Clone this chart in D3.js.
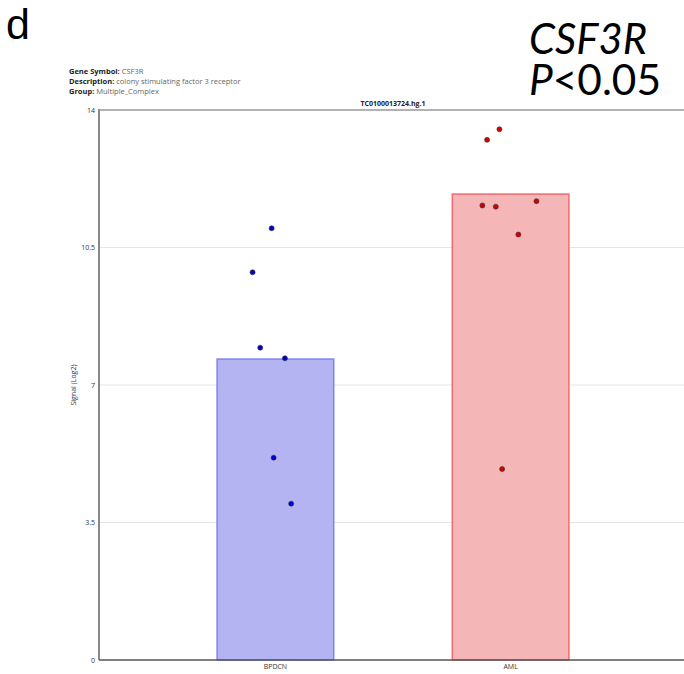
<!DOCTYPE html>
<html><head><meta charset="utf-8">
<script src="https://cdn.jsdelivr.net/npm/d3@7/dist/d3.min.js"></script>
<style>body{margin:0;background:#fff}svg{display:block}</style>
</head><body>
<script>
const categories = ["BPDCN", "AML"];
const barValues = [7.66, 11.86];
const barFill = ["#b4b4f3", "#f4b6b7"];
const barStroke = ["#8080f5", "#f26a6e"];
const dotFill = ["#0000c8", "#d40000"];
const bpdcnPoints = [10.99, 9.87, 7.95, 7.68, 5.15, 3.98];
const bpdcnJitter = [-0.032, -0.194, -0.129, 0.081, -0.015, 0.134];
const amlPoints = [13.51, 13.24, 11.57, 11.54, 11.68, 10.83, 4.86];
const amlJitter = [-0.095, -0.2, -0.24, -0.126, 0.22, 0.066, -0.072];
const yTicks = [0, 3.5, 7, 10.5, 14];

const W = 684, H = 674;
const svg = d3.select("body").append("svg").attr("width", W).attr("height", H);
const mLeft = 99, mRight = 687, mTop = 110, mBottom = 660;

const x = d3.scaleBand().domain(categories).range([mLeft, mRight]).paddingInner(0.5).paddingOuter(0.5);
const y = d3.scaleLinear().domain([0, 14]).range([mBottom, mTop]);

// gridlines
svg.append("g").selectAll("line").data(yTicks.filter(t => t > 0 && t < 14)).join("line")
  .attr("x1", mLeft).attr("x2", W).attr("y1", d => y(d)).attr("y2", d => y(d))
  .attr("stroke", "#e4e4e4").attr("stroke-width", 1);

// bars
svg.append("g").selectAll("rect").data(categories).join("rect")
  .attr("x", d => x(d) + 0.5).attr("width", x.bandwidth() - 1)
  .attr("y", (d, i) => y(barValues[i])).attr("height", (d, i) => mBottom - y(barValues[i]))
  .attr("fill", (d, i) => barFill[i]).attr("stroke", (d, i) => barStroke[i]).attr("stroke-width", 1.5);

// axes
const yAxis = svg.append("g").attr("transform", `translate(${mLeft},0)`)
  .call(d3.axisLeft(y).tickValues(yTicks).tickSize(0).tickPadding(4).tickFormat(d3.format("")));
yAxis.select(".domain").remove();
yAxis.selectAll("text").attr("font-family", "Open Sans, sans-serif").attr("font-size", 7).attr("fill", "#333");

svg.append("line").attr("x1", mLeft).attr("x2", mLeft).attr("y1", mTop - 1).attr("y2", mBottom)
  .attr("stroke", "#888").attr("stroke-width", 2);
svg.append("line").attr("x1", mLeft).attr("x2", W).attr("y1", mTop).attr("y2", mTop)
  .attr("stroke", "#999").attr("stroke-width", 1.5);

const xAxis = svg.append("g").attr("transform", `translate(0,${mBottom})`)
  .call(d3.axisBottom(x).tickSize(0).tickPadding(4));
xAxis.select(".domain").attr("d", `M${mLeft},0H${W}`).attr("stroke", "#555").attr("stroke-width", 1.5);
xAxis.selectAll("text").attr("font-family", "Open Sans, sans-serif").attr("font-size", 7).attr("fill", "#333");

// dots
const pts = [];
bpdcnPoints.forEach((v, i) => pts.push({c: 0, v, j: bpdcnJitter[i]}));
amlPoints.forEach((v, i) => pts.push({c: 1, v, j: amlJitter[i]}));
svg.append("g").selectAll("circle").data(pts).join("circle")
  .attr("cx", d => x(categories[d.c]) + x.bandwidth() / 2 + d.j * x.bandwidth())
  .attr("cy", d => y(d.v)).attr("r", 2.5)
  .attr("fill", d => dotFill[d.c]).attr("stroke", "#333").attr("stroke-width", 0.6);

// y label
svg.append("text").attr("transform", `translate(76,${(mTop + mBottom) / 2}) rotate(-90)`)
  .attr("text-anchor", "middle").attr("font-family", "Open Sans, sans-serif").attr("font-size", 7)
  .attr("fill", "#333").text("Signal (Log2)");

// chart title
svg.append("text").attr("x", 393).attr("y", 106).attr("text-anchor", "middle")
  .attr("font-family", "Open Sans, sans-serif").attr("font-size", 7).attr("font-weight", "bold")
  .attr("fill", "#222").text("TC0100013724.hg.1");

// info header
const info = [["Gene Symbol:", "CSF3R", 74], ["Description:", "colony stimulating factor 3 receptor", 84], ["Group:", "Multiple_Complex", 94]];
info.forEach(([k, v, yy]) => {
  const t = svg.append("text").attr("x", 69).attr("y", yy).attr("font-family", "Open Sans, sans-serif").attr("font-size", 7.5);
  t.append("tspan").attr("font-weight", "bold").attr("fill", "#222").text(k + " ");
  t.append("tspan").attr("fill", "#666").text(v);
});

// panel letter
svg.append("text").attr("x", 6).attr("y", 39).attr("font-family", "Liberation Sans, Arial, sans-serif")
  .attr("font-size", 43).attr("fill", "#000").text("d");

// gene & p
svg.append("text").attr("x", 529).attr("y", 54).attr("font-family", "Lato, sans-serif")
  .attr("font-size", 43).attr("font-style", "italic").attr("fill", "#000")
  .attr("textLength", 118).attr("lengthAdjust", "spacingAndGlyphs").text("CSF3R");
const p = svg.append("text").attr("x", 529).attr("y", 95).attr("font-family", "Lato, sans-serif")
  .attr("font-size", 43).attr("fill", "#000").attr("textLength", 132).attr("lengthAdjust", "spacingAndGlyphs");
p.append("tspan").attr("font-style", "italic").text("P");
p.append("tspan").text("<0.05");
</script>
</body></html>
